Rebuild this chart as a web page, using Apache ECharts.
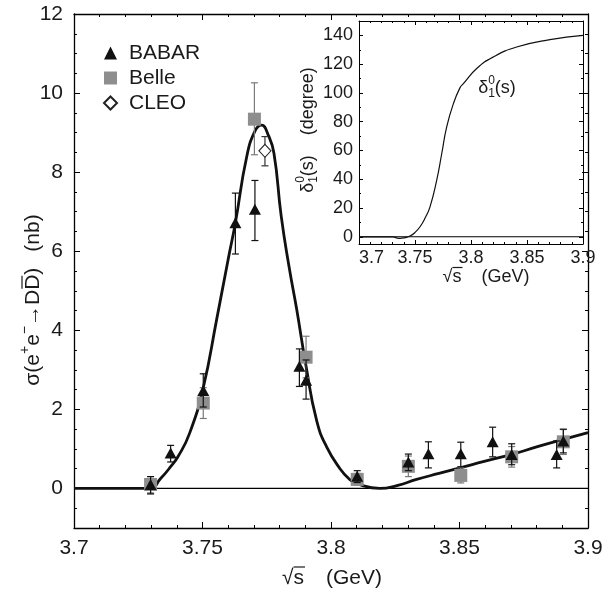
<!DOCTYPE html>
<html>
<head>
<meta charset="utf-8">
<script src="https://cdn.jsdelivr.net/npm/echarts@6/dist/echarts.min.js"></script>
<style>
html,body{margin:0;padding:0;background:#fff;}
#main{width:604px;height:592px;}
</style>
</head>
<body>
<div id="main"></div>
<script>
//拟合曲线 (nb)
var fitX = [3.700, 3.7250, 3.7297, 3.7337, 3.7376, 3.7406, 3.7450, 3.7503, 3.7555, 3.7600, 3.7628, 3.7672, 3.7705, 3.7730, 3.7755, 3.7778, 3.7806, 3.7837, 3.7866, 3.7903, 3.7944, 3.7983, 3.8035, 3.8074, 3.8100, 3.8190, 3.8260, 3.8333, 3.8420, 3.8502, 3.8600, 3.8703, 3.8800, 3.8904, 3.9000];
var fitY = [0, 0, 0, 0.25, 0.55, 0.82, 1.40, 2.55, 4.27, 5.80, 6.72, 8.39, 9.05, 9.19, 8.95, 8.48, 6.90, 5.60, 4.55, 3.09, 1.72, 1.05, 0.50, 0.22, 0.12, 0.00, 0.08, 0.23, 0.38, 0.52, 0.69, 0.86, 1.05, 1.24, 1.41];
//相移 (degree)
var phaseX = [3.700, 3.7250, 3.7297, 3.7335, 3.7366, 3.7410, 3.7455, 3.7500, 3.7545, 3.7590, 3.7634, 3.7694, 3.7739, 3.7783, 3.7843, 3.7902, 3.7932, 3.8051, 3.8199, 3.8408, 3.8705, 3.9000];
var phaseY = [0, 0, 0, -0.8, -1.1, -0.6, 0.5, 3.0, 7.0, 13.0, 20.8, 39.4, 57.9, 76.4, 92.6, 103.7, 106.5, 117, 125, 131.9, 137, 140];
//BABAR
var babarX = [3.7298, 3.7376, 3.7503, 3.7628, 3.7704, 3.7877, 3.7903, 3.8102, 3.8301, 3.8379, 3.8505, 3.8629, 3.8703, 3.8878, 3.8904];
var babarY = [0.10, 0.90, 2.48, 6.72, 7.06, 3.09, 2.74, 0.31, 0.67, 0.88, 0.88, 1.18, 0.86, 0.86, 1.20];
var babarLo = [-0.12, 0.67, 2.06, 5.93, 6.27, 2.58, 2.26, 0.15, 0.45, 0.52, 0.55, 0.80, 0.60, 0.52, 0.90];
var babarHi = [0.30, 1.09, 2.90, 7.47, 7.79, 3.53, 3.25, 0.45, 0.87, 1.18, 1.17, 1.55, 1.13, 1.20, 1.50];
//Belle
var belleX = [3.7298, 3.7503, 3.7702, 3.7903, 3.8102, 3.8301, 3.8505, 3.8703, 3.8904];
var belleY = [0.10, 2.16, 9.34, 3.32, 0.23, 0.56, 0.33, 0.80, 1.18];
var belleLo = [-0.15, 1.77, 8.44, 2.80, 0.08, 0.30, 0.14, 0.54, 0.86];
var belleHi = [0.30, 2.55, 10.26, 3.85, 0.38, 0.82, 0.52, 1.06, 1.49];
//CLEO
var cleoX = [3.7743];
var cleoY = [8.54];
var cleoLo = [8.16];
var cleoHi = [8.90];
//刻度
var zeroX = [3.7, 3.9];
var yMajor = [0, 2, 4, 6, 8, 10, 12];
var yMinor = [-1, -0.5, 0.5, 1, 1.5, 2.5, 3, 3.5, 4.5, 5, 5.5, 6.5, 7, 7.5, 8.5, 9, 9.5, 10.5, 11, 11.5];
var pMajor = [0, 20, 40, 60, 80, 100, 120, 140];
var pMinor = [10, 30, 50, 70, 90, 110, 130, 150];

var FONT = '"Liberation Sans", Arial, sans-serif';
var TXT = '#1a1a1a';
var ctx2d = document.createElement('canvas').getContext('2d');
function textWidth(t, size) {
	ctx2d.font = size + 'px ' + FONT;
	return ctx2d.measureText(t).width;
}
//公式文字: 上下标, 上划线
function mathText(parts) {
	var x = 0, kids = [], stackW = 0;
	for (var i = 0; i < parts.length; i++) {
		var p = parts[i];
		if (p.gap) { x += p.gap; continue; }
		var w = textWidth(p.t, p.s);
		kids.push({type: 'text', x: x, y: p.dy || 0, style: {text: p.t, font: p.s + 'px ' + FONT, fill: TXT, textAlign: 'left', textVerticalAlign: 'middle'}});
		if (p.over) {
			kids.push({type: 'line', shape: {x1: x + p.over[0], y1: p.over[2], x2: x + w + p.over[1], y2: p.over[2]}, style: {stroke: TXT, lineWidth: 1.2}});
		}
		if (p.stack) {
			stackW = Math.max(stackW, w);
		} else {
			x += Math.max(w, stackW);
			stackW = 0;
		}
	}
	kids.forEach(function(k) {
		if (k.type === 'text') k.x -= x / 2;
		else { k.shape.x1 -= x / 2; k.shape.x2 -= x / 2; }
	});
	return kids;
}
function pairs(xs, ys) { return xs.map(function(x, i) { return [x, ys[i]]; }); }
function bars(xs, lo, hi) { return xs.map(function(x, i) { return [x, lo[i], hi[i]]; }); }
function errItem(color, cap) {
	return function(params, api) {
		var x = api.value(0);
		var p1 = api.coord([x, api.value(1)]);
		var p2 = api.coord([x, api.value(2)]);
		var st = {stroke: color, lineWidth: 1.2};
		return {type: 'group', children: [
			{type: 'line', shape: {x1: p1[0], y1: p1[1], x2: p2[0], y2: p2[1]}, style: st},
			{type: 'line', shape: {x1: p1[0] - cap, y1: p1[1], x2: p1[0] + cap, y2: p1[1]}, style: st},
			{type: 'line', shape: {x1: p2[0] - cap, y1: p2[1], x2: p2[0] + cap, y2: p2[1]}, style: st}
		]};
	};
}
function xAx(grid, pos, labels, fs, len) {
	return {
		type: 'value', gridIndex: grid, position: pos, min: 3.7, max: 3.9, interval: 0.05,
		axisLine: {show: true, onZero: false, lineStyle: {color: '#000', width: grid === 0 ? 1.3 : 1}},
		axisTick: {show: true, inside: true, length: len, lineStyle: {color: '#000'}},
		minorTick: {show: true, splitNumber: 5, length: len / 2, lineStyle: {color: '#000'}},
		splitLine: {show: false},
		minorSplitLine: {show: false},
		axisLabel: {show: labels, fontSize: fs, fontFamily: FONT, color: TXT, margin: grid === 0 ? 10 : 5, alignMinLabel: grid === 0 ? 'center' : 'left'}
	};
}
function yAx(grid, pos, min, max, ticks, len, labels, line, fs) {
	return {
		type: 'value', gridIndex: grid, position: pos, min: min, max: max,
		axisLine: {show: line, onZero: false, lineStyle: {color: '#000', width: grid === 0 ? 1.3 : 1}},
		axisTick: {show: true, inside: true, length: len, customValues: ticks, lineStyle: {color: '#000'}},
		splitLine: {show: false},
		axisLabel: {show: labels, customValues: ticks, fontSize: fs, fontFamily: FONT, color: TXT, margin: grid === 0 ? 11 : 6}
	};
}

var myChart = echarts.init(document.getElementById('main'), null, {renderer: 'canvas'});
var option = {
	backgroundColor: '#fff',
	animation: false,
	grid: [
		{left: 74, top: 14, width: 514, height: 514, outerBoundsMode: 'none'},
		{left: 359, top: 21, width: 224, height: 223, outerBoundsMode: 'none'}
	],
	xAxis: [
		xAx(0, 'bottom', true, 21, 6),
		xAx(0, 'top', false, 21, 6),
		xAx(1, 'bottom', true, 18, 4),
		xAx(1, 'top', false, 18, 4)
	],
	yAxis: [
		yAx(0, 'left', -1, 12, yMajor, 6, true, true, 21),
		yAx(0, 'left', -1, 12, yMinor, 3, false, false, 21),
		yAx(0, 'right', -1, 12, yMajor, 6, false, true, 21),
		yAx(0, 'right', -1, 12, yMinor, 3, false, false, 21),
		yAx(1, 'left', -5, 150, pMajor, 4, true, true, 18),
		yAx(1, 'left', -5, 150, pMinor, 2, false, false, 18),
		yAx(1, 'right', -5, 150, pMajor, 4, false, true, 18),
		yAx(1, 'right', -5, 150, pMinor, 2, false, false, 18)
	],
	legend: {
		orient: 'vertical', left: 98, top: 37.5, itemWidth: 13, itemHeight: 13, itemGap: 4,
		selectedMode: false,
		textStyle: {fontSize: 21, fontFamily: FONT, color: TXT, padding: [0, 0, 0, 7]},
		data: [{name: 'BABAR', icon: 'triangle'}, {name: 'Belle', icon: 'rect'}, {name: 'CLEO', icon: 'diamond'}]
	},
	graphic: [
		{type: 'group', x: 332, y: 578, children: mathText([
			{t: '√', s: 21}, {t: 's', s: 21, over: [0, 1, -11]}, {gap: 22}, {t: '(GeV)', s: 21}
		])},
		{type: 'group', x: 33, y: 300, rotation: Math.PI / 2, children: mathText([
			{t: 'σ(e', s: 21}, {t: '+', s: 14, dy: -8}, {t: 'e', s: 21}, {t: '−', s: 14, dy: -8},
			{t: '→D', s: 21}, {t: 'D', s: 21, over: [1, -1, -11]}, {t: ')', s: 21}, {gap: 16}, {t: '(nb)', s: 21}
		])},
		{type: 'group', x: 486, y: 277, children: mathText([
			{t: '√', s: 18}, {t: 's', s: 18, over: [0, 1, -9.5]}, {gap: 20}, {t: '(GeV)', s: 18}
		])},
		{type: 'group', x: 308, y: 130, rotation: Math.PI / 2, children: mathText([
			{t: 'δ', s: 18}, {t: '0', s: 12, dy: -7, stack: true}, {t: '1', s: 12, dy: 6}, {t: '(s)', s: 18},
			{gap: 20}, {t: '(degree)', s: 18}
		])},
		{type: 'group', x: 497, y: 88, children: mathText([
			{t: 'δ', s: 18}, {t: '0', s: 12, dy: -7, stack: true}, {t: '1', s: 12, dy: 6}, {t: '(s)', s: 18}
		])}
	],
	series: [
		{type: 'line', xAxisIndex: 0, yAxisIndex: 0, data: pairs(zeroX, [0, 0]), symbol: 'none', z: 1,
			lineStyle: {color: '#000', width: 1.3}},
		{type: 'line', xAxisIndex: 0, yAxisIndex: 0, data: pairs(fitX, fitY), symbol: 'none', z: 2,
			smooth: 0.5, lineStyle: {color: '#111', width: 2.8}},
		{type: 'custom', name: 'BelleErr', xAxisIndex: 0, yAxisIndex: 0, z: 3,
			renderItem: errItem('#7a7a7a', 3.5), data: bars(belleX, belleLo, belleHi)},
		{type: 'scatter', name: 'Belle', xAxisIndex: 0, yAxisIndex: 0, z: 4, symbol: 'rect', symbolSize: 13,
			itemStyle: {color: '#8e8e8e', opacity: 1}, data: pairs(belleX, belleY)},
		{type: 'custom', name: 'BabarErr', xAxisIndex: 0, yAxisIndex: 0, z: 5,
			renderItem: errItem('#111', 3.5), data: bars(babarX, babarLo, babarHi)},
		{type: 'scatter', name: 'BABAR', xAxisIndex: 0, yAxisIndex: 0, z: 6, symbol: 'triangle', symbolSize: [12, 11],
			itemStyle: {color: '#111', opacity: 1}, data: pairs(babarX, babarY)},
		{type: 'custom', name: 'CleoErr', xAxisIndex: 0, yAxisIndex: 0, z: 5,
			renderItem: errItem('#333', 3.5), data: bars(cleoX, cleoLo, cleoHi)},
		{type: 'scatter', name: 'CLEO', xAxisIndex: 0, yAxisIndex: 0, z: 7, symbol: 'diamond', symbolSize: [12, 13],
			itemStyle: {color: '#fff', borderColor: '#222', borderWidth: 1.1, opacity: 1}, data: pairs(cleoX, cleoY)},
		{type: 'line', xAxisIndex: 2, yAxisIndex: 4, data: pairs(zeroX, [0, 0]), symbol: 'none', z: 2,
			lineStyle: {color: '#000', width: 1.1}},
		{type: 'line', xAxisIndex: 2, yAxisIndex: 4, data: pairs(phaseX, phaseY), symbol: 'none', z: 3,
			smooth: 0.5, lineStyle: {color: '#111', width: 1.2}}
	]
};
myChart.setOption(option);
</script>
</body>
</html>
